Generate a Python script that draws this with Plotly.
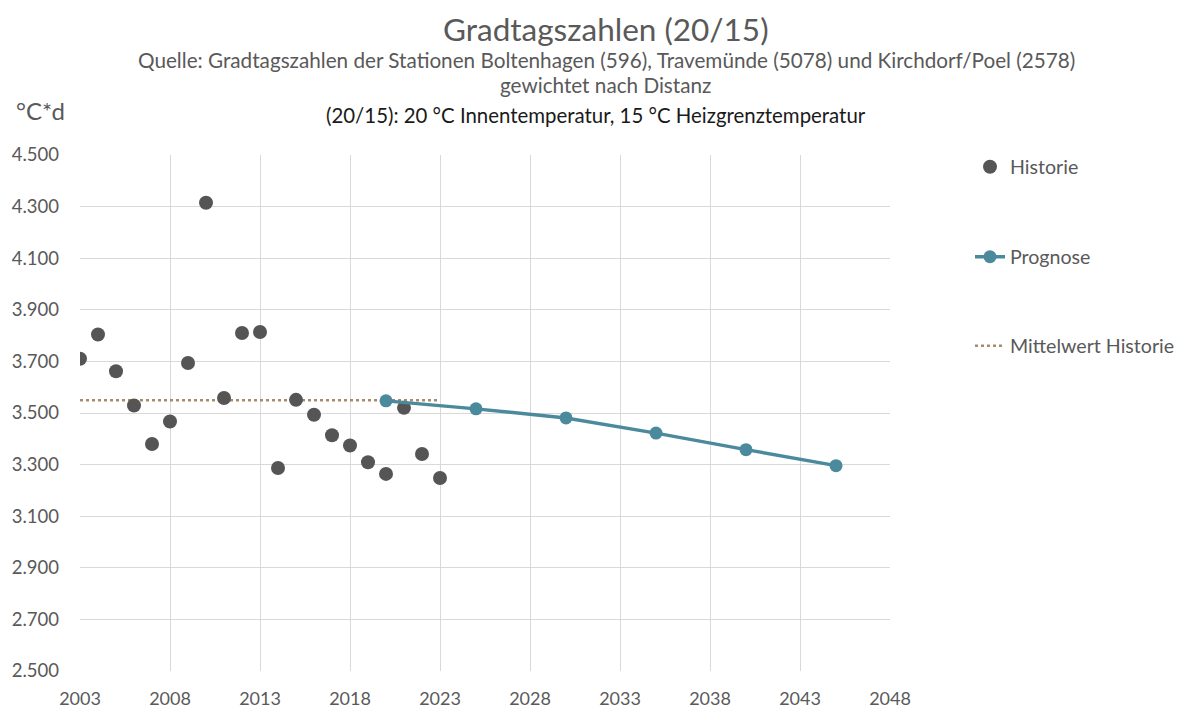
import plotly.graph_objects as go

# Data
hist_years = list(range(2003, 2024))
hist_values = [3710, 3804, 3662, 3529, 3380, 3467, 3694, 4315, 3558, 3810, 3814,
               3287, 3551, 3493, 3414, 3374, 3309, 3264, 3520, 3341, 3248]
prog_years = [2020, 2025, 2030, 2035, 2040, 2045]
prog_values = [3547, 3516, 3481, 3422, 3358, 3296]
mean_years = [2003, 2023]
mean_value = sum(hist_values) / len(hist_values)
mean_values = [mean_value, mean_value]

x_ticks = list(range(2003, 2049, 5))
y_ticks = list(range(2500, 4501, 200))

FONT = "Lato"
GRAY = "#595959"

fig = go.Figure()
fig.add_trace(go.Scatter(x=mean_years, y=mean_values, mode="lines", name="Mittelwert Historie",
                         line=dict(color="#a88a6c", width=2.5, dash="dot"), legend="legend3"))
fig.add_trace(go.Scatter(x=hist_years, y=hist_values, mode="markers", name="Historie",
                         marker=dict(color="#555555", size=14), legend="legend"))
fig.add_trace(go.Scatter(x=prog_years, y=prog_values, mode="lines+markers", name="Prognose",
                         line=dict(color="#4a8a9c", width=3.5),
                         marker=dict(color="#4a8a9c", size=13), legend="legend2"))

# page body has an 8px margin; positions below are in screen pixels
OFF = 8
L, T, PW, PH = 80, 155, 810, 516


def py(p):
    return (T + PH - p) / PH


def px(p):
    return (p - L) / PW


leg_common = dict(font=dict(family=FONT, size=19.6, color=GRAY), bgcolor="rgba(0,0,0,0)",
                  xanchor="left", yanchor="middle")

W, H = 1189 - OFF, 713 - OFF
fig.update_layout(
    width=W, height=H,
    margin=dict(l=L - OFF, r=W - (L - OFF) - PW, t=T - OFF, b=H - (T - OFF) - PH,
                autoexpand=False),
    plot_bgcolor="white", paper_bgcolor="white",
    separators=",.",
    font=dict(family=FONT, color=GRAY),
    showlegend=True,
    legend=dict(x=px(970), y=py(167), **leg_common),
    legend2=dict(x=px(970), y=py(257), **leg_common),
    legend3=dict(x=px(970), y=py(346), **leg_common),
    xaxis=dict(range=[2003, 2048], tickvals=x_ticks, ticktext=[str(v) for v in x_ticks],
               showgrid=True, gridcolor="#d9d9d9", gridwidth=1.3, zeroline=False,
               showline=False, ticks="", ticklabelstandoff=15,
               tickfont=dict(family=FONT, size=18, color=GRAY)),
    yaxis=dict(range=[2500, 4500], tickvals=y_ticks, tickformat=",d",
               showgrid=True, gridcolor="#d9d9d9", gridwidth=1.3, zeroline=False,
               showline=False, ticks="", ticklabelstandoff=20,
               tickfont=dict(family=FONT, size=18.5, color=GRAY)),
)

annots = [
    dict(text="Gradtagszahlen (20/15)", x=px(606), y=py(29), size=31.5, color=GRAY),
    dict(text="Quelle: Gradtagszahlen der Stationen Boltenhagen (596), Travemünde (5078) und Kirchdorf/Poel (2578)",
         x=px(606), y=py(60), size=20.7, color=GRAY),
    dict(text="gewichtet nach Distanz", x=px(605), y=py(85), size=20.7, color=GRAY),
    dict(text="(20/15): 20 °C Innentemperatur, 15 °C Heizgrenztemperatur", x=px(596), y=py(115),
         size=20.4, color="#1a1a1a"),
    dict(text="°C*d", x=px(40), y=py(110), size=24, color=GRAY),
]
for a in annots:
    fig.add_annotation(text=a["text"], x=a["x"], y=a["y"], xref="paper", yref="paper",
                       showarrow=False, xanchor="center", yanchor="middle",
                       font=dict(family=FONT, size=a["size"], color=a["color"]))

fig.write_html("out.html")
